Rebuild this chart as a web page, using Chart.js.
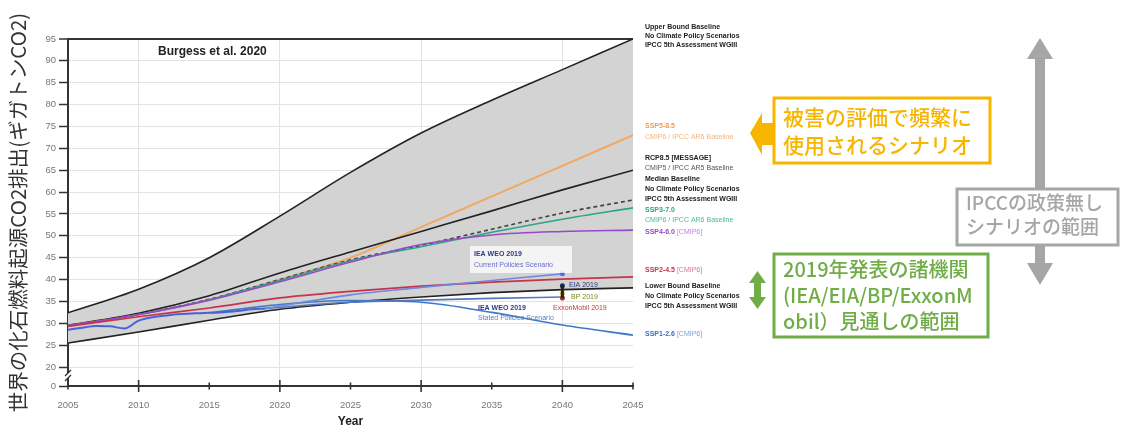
<!DOCTYPE html>
<html>
<head>
<meta charset="utf-8">
<script src="https://cdn.jsdelivr.net/npm/chart.js@4.4.1/dist/chart.umd.min.js"></script>
<style>
    body { margin: 0; background: #fff; }
    canvas { display: block; }
</style>
</head>
<body>
<canvas id="chart" width="1124" height="432"></canvas>
<script>
// 年 (5年刻み)
const years = [2005, 2010, 2015, 2020, 2025, 2030, 2035, 2040, 2045];
const upperBound = [32.4, 37.8, 45.0, 54.5, 64.5, 73.5, 81.0, 88.0, 95.0];
const lowerBound = [25.5, 28.0, 30.7, 33.2, 34.8, 36.0, 37.0, 37.7, 38.1];
const ssp585 = [29.6, 32.0, 35.3, 40.0, 45.0, 52.0, 59.0, 66.0, 73.0];
const rcp85 = [29.5, 32.3, 36.3, 41.5, 46.3, 51.0, 55.7, 60.5, 65.0];
const medianBaseline = [29.4, 32.0, 35.5, 40.0, 44.5, 47.8, 51.5, 55.2, 58.2];
const ssp370 = [29.4, 32.0, 35.4, 39.8, 44.3, 47.5, 50.8, 53.8, 56.4];
const ssp460 = [29.5, 32.0, 35.3, 39.5, 44.0, 48.0, 50.2, 51.0, 51.3];
const ssp245 = [29.3, 31.5, 33.5, 35.8, 37.3, 38.5, 39.4, 40.1, 40.6];

// 実績
const histYears = [2005, 2006, 2007, 2008, 2009, 2010, 2011, 2012, 2013, 2014, 2015, 2016, 2017, 2018, 2019];
const historical = [28.5, 29.0, 29.4, 29.3, 28.8, 30.6, 31.4, 31.8, 32.1, 32.3, 32.4, 32.5, 32.8, 33.2, 33.4];

const ssp126Years = [2015, 2020, 2025, 2030, 2035, 2040, 2045];
const ssp126 = [32.4, 34.3, 35.2, 34.8, 32.5, 29.6, 27.3];

// IEA WEO 2019
const ieaYears = [2019, 2025, 2030, 2035, 2040];
const ieaCurrent = [33.4, 36.5, 38.2, 39.8, 41.3];
const ieaStated = [33.4, 34.8, 35.3, 35.7, 36.0];

// 2040年の各機関見通し
const outlookYear = 2040;
const outlookNames = ['EIA 2019', 'BP 2019', 'ExxonMobil 2019'];
const outlookValues = [38.6, 36.8, 35.8];

// 軸
const xTicks = [2005, 2010, 2015, 2020, 2025, 2030, 2035, 2040, 2045];
const yMin = 15.66;   // 軸の省略部分 (0 を表示)
const yTickValues = [yMin, 20, 25, 30, 35, 40, 45, 50, 55, 60, 65, 70, 75, 80, 85, 90, 95];
const yTickLabels = ['0', '20', '25', '30', '35', '40', '45', '50', '55', '60', '65', '70', '75', '80', '85', '90', '95'];

const pts = (xs, ys) => xs.map((x, i) => ({x: x, y: ys[i]}));

function line(label, xs, ys, color, extra) {
    return Object.assign({
        label: label,
        data: pts(xs, ys),
        borderColor: color,
        borderWidth: 1.6,
        pointRadius: 0,
        fill: false,
        tension: 0.4,
        cubicInterpolationMode: 'monotone'
    }, extra || {});
}

const sans = 'Liberation Sans, Arial, sans-serif';
const jp = '"Noto Sans CJK JP", sans-serif';

// 注釈・ラベル
const annotations = {
    id: 'annotations',
    afterDraw(chart) {
        const ctx = chart.ctx;
        const xs = chart.scales.x, ys = chart.scales.y;
        ctx.save();

        // x軸の目盛り
        ctx.strokeStyle = '#333';
        ctx.lineWidth = 1.6;
        const axisY = chart.chartArea.bottom;
        xTicks.forEach(v => {
            const px = xs.getPixelForValue(v);
            const len = v % 10 === 0 ? 6 : 3.5;
            ctx.beginPath();
            ctx.moveTo(px, axisY - len);
            ctx.lineTo(px, axisY + len);
            ctx.stroke();
        });

        // y軸の省略記号
        const ax = chart.chartArea.left;
        ctx.fillStyle = '#fff';
        ctx.fillRect(ax - 3, 373, 6, 5);
        ctx.strokeStyle = '#333';
        ctx.lineWidth = 1.3;
        ctx.beginPath();
        ctx.moveTo(ax - 3, 376); ctx.lineTo(ax + 3, 370);
        ctx.moveTo(ax - 3, 381); ctx.lineTo(ax + 3, 375);
        ctx.stroke();

        // 2040年の見通しマーカー
        const ox = xs.getPixelForValue(outlookYear);
        ctx.strokeStyle = '#222';
        ctx.lineWidth = 3;
        ctx.beginPath();
        ctx.moveTo(ox, ys.getPixelForValue(Math.max(...outlookValues)));
        ctx.lineTo(ox, ys.getPixelForValue(Math.min(...outlookValues)));
        ctx.stroke();

        // Burgess et al. 2020
        ctx.fillStyle = '#222';
        ctx.font = 'bold 12px ' + sans;
        ctx.textBaseline = 'middle';
        ctx.fillText('Burgess et al. 2020', 158, 52);

        // 図中ラベル
        ctx.fillStyle = 'rgba(255,255,255,0.75)';
        ctx.fillRect(470, 246, 102, 27);
        const small = (t, x, y, color, bold) => {
            ctx.font = (bold ? 'bold ' : '') + '7px ' + sans;
            ctx.fillStyle = color;
            ctx.fillText(t, x, y);
        };
        small('IEA WEO 2019', 474, 254, '#2c3a80', true);
        small('Current Policies Scenario', 474, 265, '#6a6ad0', false);
        small('IEA WEO 2019', 478, 308, '#2c3a80', true);
        small('Stated Policies Scenario', 478, 318, '#5a80c0', false);
        small(outlookNames[0], 569, 285, '#2c3a80', false);
        small(outlookNames[1], 571, 297, '#7a8a20', false);
        small(outlookNames[2], 553, 308, '#c04040', false);

        // 右側のシナリオ名
        const rx = 645;
        const labels = [
            ['Upper Bound Baseline', 27, '#222', true],
            ['No Climate Policy Scenarios', 36, '#222', true],
            ['IPCC 5th Assessment WGIII', 45, '#222', true],
            ['SSP5-8.5', 126, '#eea04a', true],
            ['CMIP6 / IPCC AR6 Baseline', 137, '#f2b47a', false],
            ['RCP8.5 [MESSAGE]', 158, '#222', true],
            ['CMIP5 / IPCC AR5 Baseline', 168, '#555', false],
            ['Median Baseline', 179, '#222', true],
            ['No Climate Policy Scenarios', 189, '#222', true],
            ['IPCC 5th Assessment WGIII', 199, '#222', true],
            ['SSP3-7.0', 210, '#2aa58a', true],
            ['CMIP6 / IPCC AR6 Baseline', 220, '#4ab8a0', false],
            ['Lower Bound Baseline', 286, '#222', true],
            ['No Climate Policy Scenarios', 296, '#222', true],
            ['IPCC 5th Assessment WGIII', 306, '#222', true]
        ];
        labels.forEach(l => small(l[0], rx, l[1], l[2], l[3]));
        const tagged = [
            ['SSP4-6.0', 232, '#9a48c8', '#b888dd'],
            ['SSP2-4.5', 270, '#c8324a', '#d87888'],
            ['SSP1-2.6', 334, '#3a6cc8', '#80a0dd']
        ];
        tagged.forEach(t => {
            small(t[0], rx, t[1], t[2], true);
            const w = ctx.measureText(t[0]).width;
            small(' [CMIP6]', rx + w, t[1], t[3], false);
        });

        // 灰色の両矢印
        const gray = '#a6a6a6';
        ctx.fillStyle = gray;
        ctx.fillRect(1035, 55, 10, 212);
        ctx.beginPath();
        ctx.moveTo(1040, 38); ctx.lineTo(1027, 59); ctx.lineTo(1053, 59); ctx.closePath();
        ctx.moveTo(1040, 285); ctx.lineTo(1027, 263); ctx.lineTo(1053, 263); ctx.closePath();
        ctx.fill();

        const box = (x, y, w, h, color, lines, top, step, size) => {
            ctx.fillStyle = '#fff';
            ctx.fillRect(x, y, w, h);
            ctx.strokeStyle = color;
            ctx.lineWidth = 3;
            ctx.strokeRect(x, y, w, h);
            ctx.fillStyle = color;
            ctx.font = '500 ' + size + 'px ' + jp;
            ctx.textBaseline = 'middle';
            lines.forEach((t, i) => ctx.fillText(t, x + 9, top + i * step));
        };
        box(957, 189, 161, 56, gray, ['IPCCの政策無し', 'シナリオの範囲'], 203, 24, 19);

        // オレンジの矢印と枠
        const orange = '#f7b500';
        ctx.fillStyle = orange;
        ctx.beginPath();
        ctx.moveTo(750, 133); ctx.lineTo(762, 113); ctx.lineTo(762, 123);
        ctx.lineTo(773, 123); ctx.lineTo(773, 145); ctx.lineTo(762, 145);
        ctx.lineTo(762, 155); ctx.closePath();
        ctx.fill();
        box(774, 98, 216, 65, orange, ['被害の評価で頻繁に', '使用されるシナリオ'], 117, 28, 21);

        // 緑の両矢印と枠
        const green = '#70ad47';
        ctx.fillStyle = green;
        ctx.fillRect(754, 281, 7, 18);
        ctx.beginPath();
        ctx.moveTo(757.5, 271); ctx.lineTo(749, 283); ctx.lineTo(766, 283); ctx.closePath();
        ctx.moveTo(757.5, 309); ctx.lineTo(749, 297); ctx.lineTo(766, 297); ctx.closePath();
        ctx.fill();
        box(774, 254, 214, 83, green, ['2019年発表の諸機関', '(IEA/EIA/BP/ExxonM', 'obil）見通しの範囲'], 269, 26, 20);

        ctx.restore();
    }
};

new Chart(document.getElementById('chart'), {
    type: 'line',
    data: {
        datasets: [
            line('IEA WEO 2019 Current Policies', ieaYears, ieaCurrent, '#7088e0', {
                pointRadius: c => c.dataIndex === ieaYears.length - 1 ? 2.5 : 0,
                pointBackgroundColor: '#5070d8',
                pointBorderWidth: 0
            }),
            line('IEA WEO 2019 Stated Policies', ieaYears, ieaStated, '#5577bb'),
            {
                label: 'Outlooks 2040',
                data: pts(outlookValues.map(() => outlookYear), outlookValues),
                showLine: false,
                pointRadius: 2.5,
                pointBorderWidth: 0,
                pointBackgroundColor: ['#1f2a5a', '#d8c830', '#a03030']
            },
            line('Historical', histYears, historical, '#4a62d8', {borderWidth: 2, tension: 0}),
            line('SSP1-2.6', ssp126Years, ssp126, '#3f78c8'),
            line('SSP2-4.5', years, ssp245, '#c8324a'),
            line('SSP4-6.0', years, ssp460, '#9a48c8'),
            line('SSP3-7.0', years, ssp370, '#2aa58a'),
            line('Median Baseline', years, medianBaseline, '#444', {borderDash: [4, 3]}),
            line('RCP8.5 [MESSAGE]', years, rcp85, '#222'),
            line('SSP5-8.5', years, ssp585, '#f2a860', {borderWidth: 2}),
            line('Upper Bound Baseline', years, upperBound, '#222', {fill: '+1', backgroundColor: '#d3d3d3'}),
            line('Lower Bound Baseline', years, lowerBound, '#222')
        ]
    },
    options: {
        responsive: false,
        animation: false,
        layout: {padding: {left: 0, right: 491, top: 39, bottom: 0}},
        plugins: {
            legend: {display: false},
            tooltip: {enabled: false},
            filler: {drawTime: 'beforeDatasetsDraw'}
        },
        scales: {
            x: {
                type: 'linear',
                min: 2005,
                max: 2045,
                afterBuildTicks: s => { s.ticks = xTicks.map(v => ({value: v})); },
                afterFit: s => { s.height = 46; },
                grid: {
                    color: c => (c.tick && c.tick.value % 10 === 0 && c.tick.value > 2005 && c.tick.value < 2045) ? '#e2e2e2' : 'rgba(0,0,0,0)',
                    drawTicks: false
                },
                border: {color: '#333', width: 2},
                ticks: {
                    padding: 14,
                    color: '#777',
                    font: {size: 9.5, family: sans},
                    autoSkip: false,
                    maxRotation: 0,
                    callback: v => String(v)
                },
                title: {
                    display: true,
                    text: 'Year',
                    color: '#222',
                    font: {size: 12, weight: 'bold', family: sans},
                    padding: {top: 0, bottom: 3}
                }
            },
            y: {
                min: yMin,
                max: 95,
                afterBuildTicks: s => { s.ticks = yTickValues.map(v => ({value: v})); },
                afterFit: s => { s.width = 68; },
                grid: {
                    color: c => c.tick.value === 95 ? '#333' : (c.tick.value === yMin ? 'rgba(0,0,0,0)' : '#e2e2e2'),
                    lineWidth: c => c.tick.value === 95 ? 2 : 1,
                    tickColor: '#333',
                    tickLength: 9,
                    tickWidth: 1.5
                },
                border: {color: '#333', width: 2},
                ticks: {
                    padding: 3,
                    color: '#777',
                    font: {size: 9.5, family: sans},
                    autoSkip: false,
                    callback: (v, i) => yTickLabels[i]
                },
                title: {
                    display: true,
                    text: '世界の化石燃料起源CO2排出(ギガトンCO2)',
                    color: '#333',
                    font: {size: 20.5, family: jp},
                    padding: {top: 6, bottom: 0}
                }
            }
        }
    },
    plugins: [annotations]
});
</script>
</body>
</html>
